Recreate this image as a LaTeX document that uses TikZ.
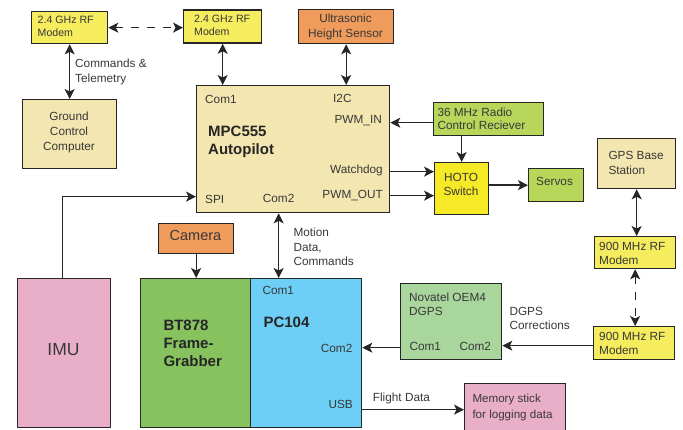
\documentclass[tikz,border=0pt]{standalone}
\usepackage{fontspec}
\setmainfont{Liberation Sans}
\usetikzlibrary{arrows.meta,calc}
\definecolor{lc}{HTML}{262626}
\definecolor{tc}{HTML}{383838}
\definecolor{cY}{HTML}{F5EC5E}
\definecolor{cYb}{HTML}{F6E925}
\definecolor{cTan}{HTML}{F3E6B0}
\definecolor{cOr}{HTML}{EF9B5B}
\definecolor{cLg}{HTML}{B7D65A}
\definecolor{cGr}{HTML}{86C25E}
\definecolor{cBl}{HTML}{6DCFF6}
\definecolor{cNv}{HTML}{A9D69D}
\definecolor{cPk}{HTML}{EAAFC8}
\begin{document}
\begin{tikzpicture}[x=1pt,y=-1pt,
  box/.style={draw=lc, line width=1.3pt, anchor=north west, inner sep=0pt},
  txt/.style={inner sep=0pt, text=tc, anchor=base west, align=left, font=\fontsize{11.8}{15}\selectfont},
  ctxt/.style={txt, anchor=base, align=center},
  rtxt/.style={txt, anchor=base east, align=right},
  btxt/.style={inner sep=0pt, text=black!85, anchor=base west, align=left, font=\bfseries\fontsize{15}{17.4}\selectfont},
  tipA/.tip={Stealth[length=10pt,width=10pt,inset=2.5pt]},
  arr/.style={-tipA, line width=1.3pt, draw=lc},
  darr/.style={tipA-tipA, line width=1.3pt, draw=lc},
  dsh/.style={dash pattern=on 8pt off 8pt}]
\useasboundingbox (0,0) rectangle (683,430);
\clip (0,0) rectangle (683,430);

% boxes
\node[box, fill=cY, minimum width=76pt, minimum height=32pt] (mA) at (31,11) {};
\node[box, fill=cY, minimum width=78pt, minimum height=33pt] (mB) at (183,9.5) {};
\node[box, fill=cOr, minimum width=95pt, minimum height=34pt] (us) at (298,9) {};
\node[box, fill=cTan, minimum width=94pt, minimum height=69pt] (gc) at (22,99) {};
\node[box, fill=cTan, minimum width=193pt, minimum height=127pt] (ap) at (196,85) {};
\node[box, fill=cLg, minimum width=110pt, minimum height=33pt] (rc) at (433,102) {};
\node[box, fill=cYb, minimum width=54pt, minimum height=52pt] (hoto) at (434,162) {};
\node[box, fill=cLg, minimum width=55pt, minimum height=33pt] (sv) at (528,168) {};
\node[box, fill=cTan, minimum width=78pt, minimum height=50pt] (gps) at (597,138) {};
\node[box, fill=cY, minimum width=81pt, minimum height=32pt] (mCa) at (594,236) {};
\node[box, fill=cY, minimum width=81pt, minimum height=33pt] (mCb) at (593,326) {};
\node[box, fill=cNv, minimum width=101pt, minimum height=76pt] (nov) at (400,283) {};
\node[box, fill=cOr, minimum width=75pt, minimum height=30pt] (cam) at (158,223) {};
\node[box, fill=cPk, minimum width=93pt, minimum height=149pt] (imu) at (17,278) {};
\node[box, fill=cGr, minimum width=110pt, minimum height=149pt] (bt) at (140,278) {};
\node[box, fill=cBl, minimum width=111pt, minimum height=149pt] (pc) at (250,278) {};
\node[box, fill=cPk, minimum width=101pt, minimum height=52pt] (mem) at (464,383) {};

% texts (multi-line nodes: base = last line)
\node[txt, font=\fontsize{10.6}{13.3}\selectfont] (tA) at (37.5,36.8) {2.4 GHz RF\\Modem};
\node[txt, font=\fontsize{10.6}{13.3}\selectfont] (tB) at (194,35.8) {2.4 GHz RF\\Modem};
\node[ctxt, font=\fontsize{11.8}{15.4}\selectfont] (tus) at (345.5,38) {Ultrasonic\\Height Sensor};
\node[txt] (tcmd) at (75,83) {Commands \&\\Telemetry};
\node[ctxt] (tgc) at (69,151) {Ground\\Control\\Computer};
\node[txt] (pCom1) at (205,103.3) {Com1};
\node[txt] (pI2C) at (333,102.5) {I2C};
\node[rtxt] (pPwmIn) at (382,124) {PWM\_IN};
\node[rtxt] (pWd) at (383,173.5) {Watchdog};
\node[rtxt] (pPwmOut) at (383,198.6) {PWM\_OUT};
\node[txt] (pSpi) at (205,203.6) {SPI};
\node[txt] (pCom2) at (262.7,202.6) {Com2};
\node[btxt] (tap) at (208,154.1) {MPC555\\Autopilot};
\node[txt, font=\fontsize{11.8}{13.4}\selectfont] (trc) at (437.3,129.7) {36 MHz Radio\\Control Reciever};
\node[ctxt, font=\fontsize{11.8}{14}\selectfont] (thoto) at (461,195.3) {HOTO\\Switch};
\node[txt] (tsv) at (536,186) {Servos};
\node[txt, font=\fontsize{11.8}{14.7}\selectfont] (tgps) at (608.3,174.3) {GPS Base\\Station};
\node[ctxt, font=\fontsize{14.5}{17}\selectfont] (tcam) at (195.5,241) {Camera};
\node[txt, font=\fontsize{11.8}{14.5}\selectfont] (tmot) at (293.3,266) {Motion\\Data,\\Commands};
\node[txt] (qCom1) at (262.3,294.3) {Com1};
\node[btxt] (tpc) at (263.3,327.4) {PC104};
\node[txt] (qCom2) at (320.7,352.6) {Com2};
\node[txt] (qUsb) at (328.3,408.6) {USB};
\node[btxt, font=\bfseries\fontsize{15}{18.3}\selectfont] (tbt) at (163.3,366.6) {BT878\\Frame-\\Grabber};
\node[ctxt, font=\fontsize{17.5}{20}\selectfont] (timu) at (63.5,355.3) {IMU};
\node[txt] (tfd) at (372.7,402) {Flight Data};
\node[txt, font=\fontsize{11.8}{14.3}\selectfont] (tCa) at (599,264.6) {900 MHz RF\\Modem};
\node[txt, font=\fontsize{11.8}{14.3}\selectfont] (tCb) at (599,354.6) {900 MHz RF\\Modem};
\node[txt, font=\fontsize{11.8}{14}\selectfont] (tnov) at (409,316) {Novatel OEM4\\DGPS};
\node[txt] (nCom1) at (409.3,351) {Com1};
\node[txt] (nCom2) at (459.3,350.5) {Com2};
\node[txt, font=\fontsize{11.8}{14}\selectfont] (tdg) at (509.3,329.3) {DGPS\\Corrections};
\node[txt, font=\fontsize{11.6}{15.4}\selectfont] (tmem) at (472.3,418) {Memory stick\\for logging data};

% connectors
\draw[darr, dsh] (mA.east) -- (mA.east -| mB.west);
\draw[darr] (mA.south) -- (mA.south |- gc.north);
\draw[darr] (mB.south) -- (mB.south |- ap.north);
\draw[darr] (us.south) -- (us.south |- ap.north);
\draw[arr] ([yshift=-3.5pt]rc.west) -- ([yshift=-3.5pt]rc.west -| ap.east);
\draw[arr] (hoto.north |- rc.south) -- (hoto.north);
\draw[arr] ([yshift=17pt]hoto.west -| ap.east) -- ([yshift=17pt]hoto.west);
\draw[arr] ([yshift=-7pt]hoto.west -| ap.east) -- ([yshift=-7pt]hoto.west);
\draw[arr] (hoto.east |- sv.west) -- (sv.west);
\draw[darr] (gps.south) -- (gps.south |- mCa.north);
\draw[darr, dsh] (mCa.south) -- (mCa.south |- mCb.north);
\draw[arr] ([yshift=-2.5pt]mCb.west) -- ([yshift=-2.5pt]mCb.west -| nov.east);
\draw[arr] ([yshift=-26pt]nov.west) -- ([yshift=-26pt]nov.west -| pc.east);
\draw[arr] (mem.west -| pc.east) -- (mem.west);
\draw[arr] (cam.south) -- (cam.south |- bt.north);
\draw[darr] ([xshift=-14.5pt]ap.south) -- ([xshift=-14.5pt]ap.south |- pc.north);
\draw[arr] ([xshift=-1.5pt]imu.north) |- ([yshift=-47.5pt]ap.west);
\end{tikzpicture}
\end{document}
